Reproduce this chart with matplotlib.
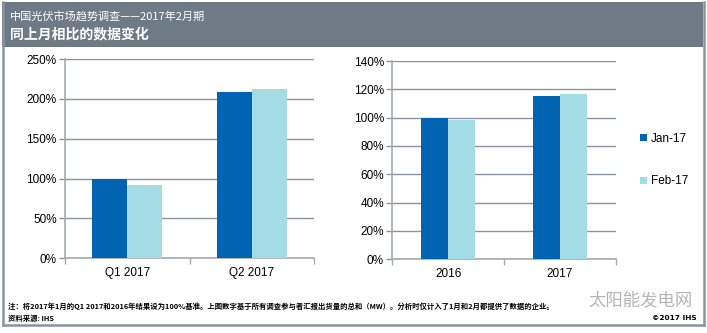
import matplotlib
matplotlib.use("Agg")
import matplotlib.pyplot as plt
from matplotlib.patches import Rectangle
from matplotlib.lines import Line2D
import numpy as np

plt.rcParams['font.family'] = ['Liberation Sans', 'Noto Sans CJK SC', 'DejaVu Sans']

# Data
quarters = ["Q1 2017", "Q2 2017"]
years = ["2016", "2017"]
series_names = ["Jan-17", "Feb-17"]
quarter_jan = [100, 208]
quarter_feb = [92.5, 212]
year_jan = [100, 115]
year_feb = [98, 116.7]
left_ticks = [0, 50, 100, 150, 200, 250]
right_ticks = [0, 20, 40, 60, 80, 100, 120, 140]

title_line1 = "中国光伏市场趋势调查——2017年2月期"
title_line2 = "同上月相比的数据变化"
note_line = ("注：将2017年1月的Q1 2017和2016年结果设为100%基准。上图数字基于所有调查参与者汇报出货量的总和（MW）。"
             "分析时仅计入了1月和2月都提供了数据的企业。")
source_line = "资料来源: IHS"
copyright_line = "©2017 IHS"
watermark = "太阳能发电网"

dark_blue = "#0064B3"
light_blue = "#A3DCE4"
grid_col = "#8A94A0"
spine_col = "#A2AAB3"
frame_col = "#8A939E"
band_col = "#6F7A87"

W, H = 707, 333
fig = plt.figure(figsize=(W / 100, H / 100), dpi=100)
fig.patch.set_facecolor("white")


def fx(px):
    return px / W


def fy(py):
    return 1 - py / H


# Header band and frame
fig.patches.append(Rectangle((fx(2), fy(47)), fx(701), 45 / H, transform=fig.transFigure,
                             facecolor=band_col, edgecolor="none", zorder=0))
for xs, ys in [((fx(2.5), fx(2.5)), (fy(2), fy(325))),
               ((fx(703.5), fx(703.5)), (fy(2), fy(325))),
               ((fx(2.5), fx(703.5)), (fy(325), fy(325)))]:
    fig.add_artist(Line2D(xs, ys, transform=fig.transFigure, color=frame_col, lw=1.8))

fig.text(fx(10), fy(16), title_line1, color="white", fontsize=8,
         family=['Noto Sans CJK SC', 'DejaVu Sans'], va="center", ha="left")
fig.text(fx(10), fy(34), title_line2, color="white", fontsize=10, fontweight="bold",
         family=['Noto Sans CJK SC', 'DejaVu Sans'], va="center", ha="left")


def draw_panel(rect, cats, jan, feb, ticks, width):
    ax = fig.add_axes(rect)
    x = np.arange(len(cats))
    ax.bar(x - width / 2, jan, width, color=dark_blue, zorder=3, label=series_names[0])
    ax.bar(x + width / 2, feb, width, color=light_blue, zorder=3, label=series_names[1])
    ax.set_xlim(-0.5, len(cats) - 0.5)
    ax.set_ylim(ticks[0], ticks[-1])
    ax.set_yticks(ticks)
    ax.set_yticklabels([f"{t}%" for t in ticks])
    ax.yaxis.grid(True, color=grid_col, lw=1.0, zorder=0)
    ax.set_axisbelow(True)
    ax.set_xticks(x)
    ax.set_xticklabels(cats)
    ax.set_xticks(np.arange(-0.5, len(cats)), minor=True)
    ax.tick_params(axis="x", which="major", length=0, pad=6, labelsize=8.5)
    ax.tick_params(axis="x", which="minor", length=4, color=spine_col, width=1)
    ax.tick_params(axis="y", length=4, color=grid_col, width=1, labelsize=8.5, pad=2)
    for s in ["top", "right"]:
        ax.spines[s].set_visible(False)
    ax.spines["left"].set_color(spine_col)
    ax.spines["bottom"].set_color(spine_col)
    ax.spines["left"].set_linewidth(1.2)
    ax.spines["bottom"].set_linewidth(1.2)
    return ax


ax1 = draw_panel([fx(65), fy(258.3), fx(249), 199.3 / H], quarters, quarter_jan, quarter_feb,
                 left_ticks, 0.28)
ax2 = draw_panel([fx(392.3), fy(259.3), fx(223.7), 198.3 / H], years, year_jan, year_feb,
                 right_ticks, 0.24)

ax2.legend(loc="center left", bbox_to_anchor=(1.06, 0.5), frameon=False, fontsize=8.5,
           handlelength=0.6, handleheight=0.6, handletextpad=0.3, labelspacing=2.6)

# Footnotes
fig.text(fx(8), fy(306), note_line, fontsize=5.3, fontweight="bold",
         family=['Noto Sans CJK SC', 'DejaVu Sans'], va="center", ha="left")
fig.text(fx(8), fy(318), source_line, fontsize=5.3, fontweight="bold",
         family=['Noto Sans CJK SC', 'DejaVu Sans'], va="center", ha="left")
fig.text(fx(697), fy(318), copyright_line, fontsize=5.3, fontweight="bold",
         family=['DejaVu Sans'], va="center", ha="right")
fig.text(fx(693), fy(300), watermark, fontsize=12.5, color="#A8A8A8", alpha=0.85,
         family=['Noto Sans CJK SC', 'DejaVu Sans'], va="center", ha="right")

fig.savefig("out.png", dpi=100)
